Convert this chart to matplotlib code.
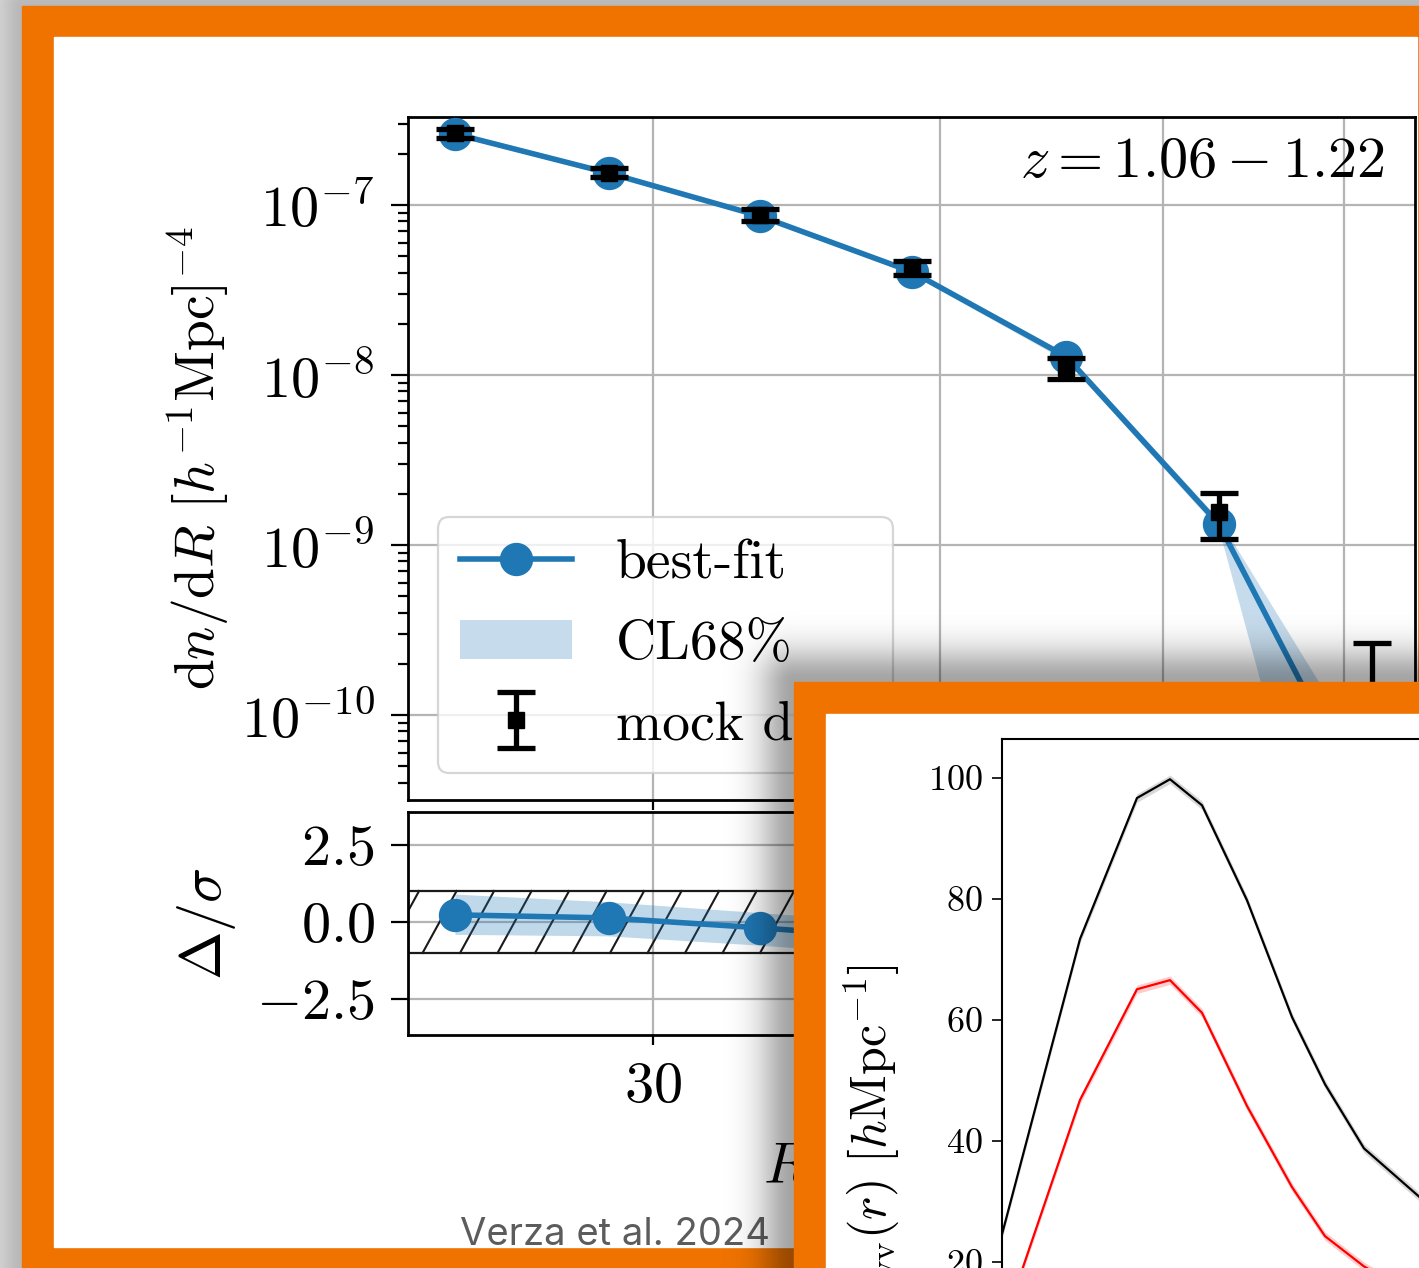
import numpy as np
import matplotlib
matplotlib.use("Agg")
import matplotlib.pyplot as plt
import matplotlib.transforms as mtransforms
from matplotlib.patches import Rectangle
from matplotlib.ticker import LogLocator, FuncFormatter, NullFormatter, NullLocator, FixedLocator

# --- void size function, z = 1.06 - 1.22 ---
R = [24.6, 28.7, 33.4, 38.9, 45.4, 52.9, 61.7]
best_fit = [2.62e-7, 1.54e-7, 8.6e-8, 4.04e-8, 1.28e-8, 1.33e-9, 2.4e-11]
cl68_lo = [2.55e-7, 1.50e-7, 8.4e-8, 3.9e-8, 1.21e-8, 1.24e-9, 6e-13]
cl68_hi = [2.68e-7, 1.58e-7, 8.8e-8, 4.15e-8, 1.35e-8, 1.42e-9, 4.8e-11]
mock = [2.64e-7, 1.55e-7, 8.7e-8, 4.26e-8, 1.10e-8, 1.56e-9, 1.35e-10]
mock_err = [1.5e-8, 1.0e-8, 7e-9, 4e-9, 1.5e-9, 4.7e-10, 1.3e-10]

# residuals Delta/sigma
resid = [0.23, 0.13, -0.19, -0.55, 0.6, -0.5, -1.2]
resid_lo = [-0.40, -0.45, -0.75, -1.1, 0.05, -1.0, -1.8]
resid_hi = [0.90, 0.65, 0.30, -0.05, 1.1, 0.0, -0.6]

# --- void-void correlation (overlaid screenshot) ---
r_vv = [0, 7.8, 13.5, 16.8, 20.0, 24.5, 29.0, 32.3, 36.2, 41.8]
xi_black = [24.6, 73.4, 96.7, 99.8, 95.5, 79.8, 60.5, 49.4, 38.8, 30.7]
xi_red = [9.0, 46.8, 65.1, 66.6, 61.2, 45.8, 32.4, 24.3, 19.3, 14.0]

W, H = 1419, 1268
ORANGE = '#f07300'
BLUE = '#1f77b4'

plt.rcParams['mathtext.fontset'] = 'cm'
plt.rcParams['font.family'] = 'serif'
plt.rcParams['font.serif'] = ['cmr10']
plt.rcParams['axes.unicode_minus'] = False


def box(x0, y0, x1, y1):
    return [x0 / W, 1 - y1 / H, (x1 - x0) / W, (y1 - y0) / H]


def shadow(x0, y0, strength, width):
    xx, yy = np.meshgrid(np.arange(W) + 0.5, np.arange(H) + 0.5)
    d = np.hypot(np.clip(x0 - xx, 0, None), np.clip(y0 - yy, 0, None))
    img = np.zeros((H, W, 4))
    img[..., 3] = strength * np.exp(-(d / width) ** 2)
    return img


def canvas_axes(z):
    a = fig.add_axes([0, 0, 1, 1], zorder=z)
    a.set_xlim(0, W)
    a.set_ylim(H, 0)
    a.axis('off')
    a.patch.set_alpha(0)
    return a


fig = plt.figure(figsize=(W / 100, H / 100), dpi=100)

# background, frame of the first slide
bg = canvas_axes(0)
bg.add_patch(Rectangle((0, 0), W, H, color='#d9d9d9', zorder=0))
bg.imshow(shadow(22, 6, 0.15, 20), extent=(0, W, H, 0), aspect='auto', zorder=1)
bg.add_patch(Rectangle((22, 6), W + 100, H + 100, color=ORANGE, zorder=2))
bg.add_patch(Rectangle((54, 37), 1417 - 54, 1247 - 37, color='white', zorder=3))
bg.text(460, 1245, 'Verza et al. 2024', family='Inter', fontsize=27.5,
        color='#5c5c5c', ha='left', va='baseline', zorder=4)

fs = 42
tick_kw = dict(direction='out', width=1.6, pad=12, labelsize=fs, color='k')

# main panel
ax = fig.add_axes(box(408, 117, 1415, 800), zorder=1)
ax.set_xscale('log')
ax.set_yscale('log')
band = ax.fill_between(R, cl68_lo, cl68_hi, color=BLUE, alpha=0.25, lw=0, zorder=2)
fit_line, = ax.plot(R, best_fit, '-o', color=BLUE, lw=4, ms=23, zorder=3)
eb = ax.errorbar(R, mock, yerr=mock_err, fmt='s', color='k', ms=11, elinewidth=3.8,
                 capsize=14, capthick=3.8, zorder=4)
ax.set_xlim(23.47, 64.4)
ax.set_ylim(3.16e-11, 3.29e-7)
ax.yaxis.set_major_locator(LogLocator(base=10, numticks=20))
ax.yaxis.set_minor_locator(LogLocator(base=10, subs=np.arange(2, 10), numticks=20))
ax.yaxis.set_major_formatter(FuncFormatter(lambda v, _: r'$10^{%d}$' % round(np.log10(v))))
ax.yaxis.set_minor_formatter(NullFormatter())
ax.xaxis.set_major_locator(NullLocator())
ax.xaxis.set_minor_locator(FixedLocator([30, 40, 50, 60]))
ax.xaxis.set_minor_formatter(NullFormatter())
ax.tick_params(which='major', length=12, **tick_kw)
ax.tick_params(which='minor', length=7, **tick_kw)
ax.tick_params(axis='x', labelbottom=False)
ax.grid(True, which='minor', axis='x', color='#b4b4b4', lw=1.6)
ax.grid(True, which='major', axis='y', color='#b4b4b4', lw=1.6)
ax.set_axisbelow(True)
for s in ax.spines.values():
    s.set_linewidth(2.0)
ax.set_ylabel(r'$\mathrm{d}n/\mathrm{d}R\ [h^{-1}\mathrm{Mpc}]^{-4}$', fontsize=40)
ax.yaxis.set_label_coords(-0.175, 0.5)
ax.text(0.970, 0.933, r'$z = 1.06 - 1.22$', transform=ax.transAxes, fontsize=fs,
        ha='right', va='center')
leg = ax.legend([fit_line, band, eb], ['best-fit', 'CL68%', 'mock data'],
                loc='lower left', bbox_to_anchor=(0.03, 0.04), borderaxespad=0,
                fontsize=40, framealpha=0.8, edgecolor='#cccccc', fancybox=True,
                labelspacing=0.55)
leg.get_frame().set_linewidth(1.6)

# residual panel
ax2 = fig.add_axes(box(408, 812, 1415, 1035), zorder=1)
ax2.set_xscale('log')
ax2.axhspan(-1, 1, facecolor='none', edgecolor='#1a1a1a', lw=1.6, zorder=1.5)
trans = mtransforms.blended_transform_factory(ax2.transAxes, ax2.transData)
step = 37.5 / 1007
for x0 in np.arange(-0.06, 1.05, step):
    ax2.plot([x0, x0 + 34 / 1007], [-1, 1], transform=trans, color='#1a1a1a', lw=1.5,
             zorder=1.6)
ax2.fill_between(R, resid_lo, resid_hi, color=BLUE, alpha=0.28, lw=0, zorder=2)
ax2.plot(R, resid, '-o', color=BLUE, lw=4, ms=23, zorder=3)
ax2.set_xlim(23.47, 64.4)
ax2.set_ylim(-3.65, 3.55)
ax2.set_yticks([-2.5, 0.0, 2.5])
ax2.yaxis.set_major_formatter(FuncFormatter(lambda v, _: r'$%.1f$' % v))
ax2.xaxis.set_major_locator(NullLocator())
ax2.xaxis.set_minor_locator(FixedLocator([30, 40, 50, 60]))
ax2.xaxis.set_minor_formatter(FuncFormatter(lambda v, _: r'$%d$' % round(v)))
ax2.tick_params(which='major', length=12, **tick_kw)
ax2.tick_params(which='minor', length=7, **tick_kw)
ax2.grid(True, which='minor', axis='x', color='#b4b4b4', lw=1.6)
ax2.grid(True, which='major', axis='y', color='#b4b4b4', lw=1.6)
ax2.set_axisbelow(True)
for s in ax2.spines.values():
    s.set_linewidth(2.0)
ax2.set_ylabel(r'$\Delta/\sigma$', fontsize=fs)
ax2.yaxis.set_label_coords(-0.169, 0.5)
ax2.set_xlabel(r'$R\ [h^{-1}\mathrm{Mpc}]$', fontsize=fs, labelpad=14)

# second slide on top, with its drop shadow
top = canvas_axes(2)
top.imshow(shadow(794, 682, 0.36, 34), extent=(0, W, H, 0), aspect='auto', zorder=1)
top.add_patch(Rectangle((794, 682), W, H, color=ORANGE, zorder=2))
top.add_patch(Rectangle((826, 714), W, H, color='white', zorder=3))

ax3 = fig.add_axes(box(1002, 739, 1700, 1500), zorder=3)
ax3.fill_between(r_vv, np.array(xi_black) - 0.7, np.array(xi_black) + 0.7,
                 color='gray', alpha=0.3, lw=0)
ax3.fill_between(r_vv, np.array(xi_red) - 0.7, np.array(xi_red) + 0.7,
                 color='red', alpha=0.2, lw=0)
ax3.plot(r_vv, xi_black, color='k', lw=1.6)
ax3.plot(r_vv, xi_red, color='red', lw=1.6)
ax3.set_xlim(0, 69.8)
ax3.set_ylim(-19.3, 106.45)
ax3.set_yticks([20, 40, 60, 80, 100])
ax3.yaxis.set_major_formatter(FuncFormatter(lambda v, _: r'$%d$' % round(v)))
ax3.tick_params(axis='y', direction='out', length=7, width=1.2, pad=7, labelsize=26)
ax3.tick_params(axis='x', bottom=False, labelbottom=False)
for s in ax3.spines.values():
    s.set_linewidth(1.5)
fig.text(902 / W, 1 - 964 / H, r'$r^2\xi_{\rm vv}(r)\ [h\mathrm{Mpc}^{-1}]$', fontsize=36,
         rotation=90, ha='right', va='top', zorder=4)

fig.savefig('out.png', dpi=100)
